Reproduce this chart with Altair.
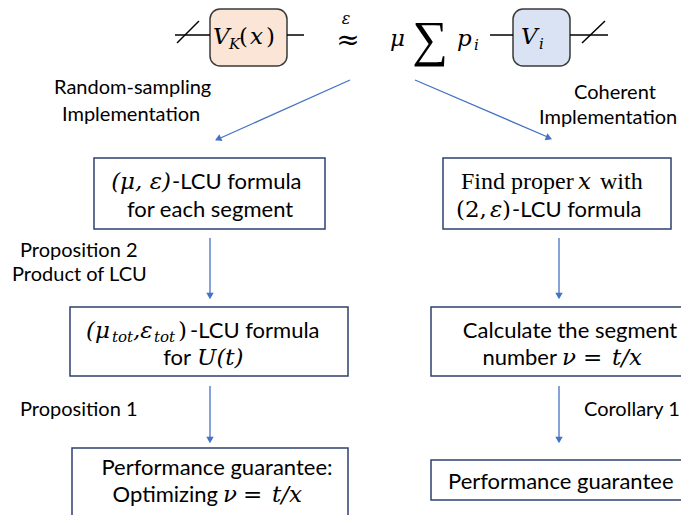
import altair as alt
import pandas as pd

# ---------------- content ----------------
# text segments: (text, x, y, style)
top_formula = [
    ("V", 213, 37, "ital"), ("K", 229, 44, "sub"), ("(", 239, 37, "math"), ("x", 250, 37, "ital"),
    (")", 266, 37, "math"),
    ("ε", 346, 19, "italc"), ("≈", 348, 41, "approx"),
    ("μ", 390, 39, "ital"), ("∑", 430, 41, "big"), ("p", 457, 39, "ital"), ("i", 474, 45, "sub"),
    ("V", 521, 37, "ital"), ("i", 539, 44, "sub"),
]
side_labels = [
    ("Random-sampling", 54, 88, "lab"), ("Implementation", 62, 115, "lab"),
    ("Coherent", 574, 93, "lab"), ("Implementation", 539, 118, "lab"),
    ("Proposition 2", 20, 251, "lab"), ("Product of LCU", 12, 275, "lab"),
    ("Proposition 1", 20, 410, "lab"), ("Corollary 1", 584, 410, "lab"),
]
box_texts = [
    ("(μ, ε)", 171, 182, "italr"), ("-LCU formula", 172, 182, "sans"),
    ("for each segment", 210, 210, "sansc"),
    ("Find proper", 461, 182, "serif"), ("x", 578, 182, "ital"), ("with", 600, 182, "serif"),
    ("(2,", 456, 210, "math"), ("ε", 490, 210, "ital"), (")", 511, 210, "mathr"),
    ("-LCU formula", 512, 210, "sans"),
    ("(μ", 86, 331, "ital"), ("tot", 112, 337, "sub"), (",ε", 133, 331, "ital"),
    ("tot", 154, 337, "sub"), (")", 178, 331, "math"), ("-LCU formula", 190, 331, "sans"),
    ("for", 191, 358, "sansr"), ("U(t)", 197, 358, "ital"),
    ("Calculate the segment", 570, 331, "sansc"),
    ("number", 557, 358, "sansr"), ("ν", 562, 358, "ital"), ("=", 583, 358, "math"), ("t/x", 612, 358, "ital"),
    ("Performance guarantee:", 217, 468, "sansc"),
    ("Optimizing", 218, 495, "sansr"), ("ν", 223, 495, "ital"), ("=", 243, 495, "math"), ("t/x", 272, 495, "ital"),
    ("Performance guarantee", 448, 482, "sans"),
]

# boxes: (x, y, x2, y2)
gate_boxes = [(210, 9, 287, 66), (513, 9, 570, 66)]
gate_fills = ["#FBE5D6", "#DAE3F3"]
flow_boxes = [(94, 158, 325, 229), (443, 158, 671, 229), (70, 307, 348, 376),
              (431, 307, 700, 376), (72, 448, 348, 516), (431, 460, 700, 500)]
# wires (x, y, x2, y2)
wires = [(175, 35, 210, 35), (287, 35, 304, 35), (490, 35, 513, 35), (570, 35, 608, 35),
         (177, 43, 199, 21), (582, 43, 605, 21)]
# arrows: shaft (x, y, x2, y2) and head (x, y, angle)
arrow_shafts = [(350, 80, 216, 140), (415, 80, 550, 138), (210, 238, 210, 296),
                (559, 238, 559, 296), (210, 386, 210, 440), (559, 386, 559, 440)]
arrow_heads = [(218, 139, 65), (549, 138, 292), (210, 296, 0), (559, 296, 0),
               (210, 440, 0), (559, 440, 0)]

# ---------------- build ----------------
X = lambda f: alt.X(f, type="quantitative", scale=alt.Scale(domain=[8, 681], nice=False, zero=False), axis=None)
Y = lambda f: alt.Y(f, type="quantitative", scale=alt.Scale(domain=[8, 515], nice=False, zero=False, reverse=True), axis=None)

def df4(rows):
    return pd.DataFrame(rows, columns=["x", "y", "x2", "y2"])

gb = df4(gate_boxes)
gb["fill"] = gate_fills
gate_layer = alt.Chart(gb).mark_rect(stroke="#3A3A3A", strokeWidth=1.5, cornerRadius=10).encode(
    x=X("x"), x2="x2", y=Y("y"), y2="y2", fill=alt.Fill("fill:N", scale=None))

flow_layer = alt.Chart(df4(flow_boxes)).mark_rect(
    fill="white", stroke="#2F3F6F", strokeWidth=1.5).encode(x=X("x"), x2="x2", y=Y("y"), y2="y2")

wire_layer = alt.Chart(df4(wires)).mark_rule(color="black", strokeWidth=1.5).encode(
    x=X("x"), x2="x2", y=Y("y"), y2="y2")

shaft_layer = alt.Chart(df4(arrow_shafts)).mark_rule(color="#4472C4", strokeWidth=1.3).encode(
    x=X("x"), x2="x2", y=Y("y"), y2="y2")

heads = pd.DataFrame(arrow_heads, columns=["x", "y", "a"])
head_layer = alt.Chart(heads).mark_point(shape="triangle-down", filled=True, size=55,
                                         color="#4472C4", opacity=1).encode(
    x=X("x"), y=Y("y"), angle=alt.Angle("a:Q", scale=None))

segs = pd.DataFrame(top_formula + side_labels + box_texts, columns=["t", "x", "y", "s"])

SANS = "Lato"
SERIF = "Liberation Serif"
MATH = "DejaVu Serif"
styles = {
    "sans": dict(font=SANS, fontSize=22, align="left"),
    "sansc": dict(font=SANS, fontSize=22, align="center"),
    "sansr": dict(font=SANS, fontSize=22, align="right"),
    "lab": dict(font=SANS, fontSize=20, align="left"),
    "serif": dict(font=SERIF, fontSize=24, align="left"),
    "math": dict(font=MATH, fontSize=23, align="left"),
    "mathr": dict(font=MATH, fontSize=23, align="right"),
    "ital": dict(font=MATH, fontSize=23, fontStyle="italic", align="left"),
    "italr": dict(font=MATH, fontSize=23, fontStyle="italic", align="right"),
    "italc": dict(font=MATH, fontSize=16, fontStyle="italic", align="center"),
    "sub": dict(font=MATH, fontSize=15, fontStyle="italic", align="left"),
    "approx": dict(font=MATH, fontSize=28, align="center"),
    "big": dict(font=SERIF, fontSize=50, align="center"),
}
text_layers = []
for key, props in styles.items():
    text_layers.append(
        alt.Chart(segs).transform_filter(alt.datum.s == key).mark_text(
            baseline="middle", color="black", **props).encode(x=X("x"), y=Y("y"), text="t:N"))

chart = alt.layer(flow_layer, gate_layer, wire_layer, shaft_layer, head_layer, *text_layers).properties(
    width=673, height=507, autosize="none", padding=0, background="white"
).configure_view(stroke=None)

chart.save("out.html", embed_options={"renderer": "svg", "actions": False})
